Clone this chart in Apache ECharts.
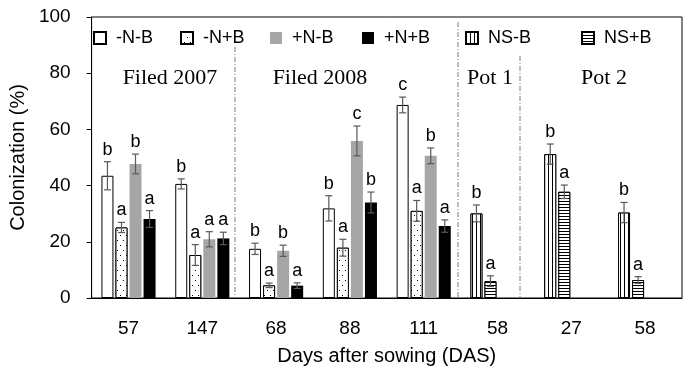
<!DOCTYPE html>
<html>
<head>
<meta charset="utf-8">
<script src="https://cdn.jsdelivr.net/npm/echarts@6/dist/echarts.min.js"></script>
<style>
  html, body { margin: 0; padding: 0; background: #fff; }
  #chart { width: 686px; height: 372px; }
</style>
</head>
<body>
<div id="chart"></div>
<script>
// categories (days after sowing)
const days = ['57', '147', '68', '88', '111', '58', '27', '58'];
const seriesNames = ['-N-B', '-N+B', '+N-B', '+N+B', 'NS-B', 'NS+B'];

// mean colonization (%)
const minusNminusB = [43.5, 40.6, 17.5, 31.9, 68.7, '-', '-', '-'];
const minusNplusB  = [25.1, 15.3, 4.5, 17.9, 31.0, '-', '-', '-'];
const plusNminusB  = [47.7, 20.9, 16.8, 55.9, 50.6, '-', '-', '-'];
const plusNplusB   = [28.1, 21.2, 4.4, 34.0, 25.6, '-', '-', '-'];
const nsMinusB     = ['-', '-', '-', '-', '-', 30.1, 51.2, 30.4];
const nsPlusB      = ['-', '-', '-', '-', '-', 6.0, 37.8, 6.4];

// standard errors
const errMinusNminusB = [5.0, 1.8, 2.0, 4.5, 2.8, 0, 0, 0];
const errMinusNplusB  = [1.8, 3.7, 0.8, 3.0, 3.7, 0, 0, 0];
const errPlusNminusB  = [3.5, 2.7, 2.0, 5.3, 2.8, 0, 0, 0];
const errPlusNplusB   = [3.0, 2.2, 1.0, 3.7, 2.2, 0, 0, 0];
const errNsMinusB     = [0, 0, 0, 0, 0, 3.0, 3.6, 3.6];
const errNsPlusB      = [0, 0, 0, 0, 0, 1.9, 2.4, 1.2];

// significance letters
const letMinusNminusB = ['b', 'b', 'b', 'b', 'c', '', '', ''];
const letMinusNplusB  = ['a', 'a', 'a', 'a', 'a', '', '', ''];
const letPlusNminusB  = ['b', 'a', 'b', 'c', 'b', '', '', ''];
const letPlusNplusB   = ['a', 'a', 'a', 'b', 'a', '', '', ''];
const letNsMinusB     = ['', '', '', '', '', 'b', 'b', 'b'];
const letNsPlusB      = ['', '', '', '', '', 'a', 'a', 'a'];

const yTicks = [0, 20, 40, 60, 80, 100];

const FONT = '"Liberation Sans", Arial, sans-serif';
const BAR_W = 12;
const BAR_GAP = 0.17;
const SLOTS = 4;

const values = [minusNminusB, minusNplusB, plusNminusB, plusNplusB, nsMinusB, nsPlusB];
const errs = [errMinusNminusB, errMinusNplusB, errPlusNminusB, errPlusNplusB, errNsMinusB, errNsPlusB];
const letters = [letMinusNminusB, letMinusNplusB, letPlusNminusB, letPlusNplusB, letNsMinusB, letNsPlusB];
const slotOf = [0, 1, 2, 3, 0, 1];
const stackOf = ['s1', 's2', undefined, undefined, 's1', 's2'];

const styles = [
  { color: '#fff', borderColor: '#000', borderWidth: 1 },
  { color: '#fff', borderColor: '#000', borderWidth: 1,
    decal: { symbol: 'rect', symbolSize: 1, color: '#000', backgroundColor: '#fff',
      dashArrayX: [[1, 5], [0, 3, 1, 2]], dashArrayY: [1, 4] } },
  { color: '#a6a6a6', borderColor: '#a6a6a6', borderWidth: 0 },
  { color: '#000', borderColor: '#000', borderWidth: 0 },
  { color: '#fff', borderColor: '#000', borderWidth: 1,
    decal: { symbol: 'rect', symbolSize: 1, color: '#000', backgroundColor: '#fff',
      dashArrayX: [1, 3], dashArrayY: [4, 0] } },
  { color: '#fff', borderColor: '#000', borderWidth: 1,
    decal: { symbol: 'rect', symbolSize: 1, color: '#000', backgroundColor: '#fff',
      dashArrayX: [4, 0], dashArrayY: [1, 2] } }
];

// error bar rows
const errRows = [];
values.forEach((arr, s) => {
  arr.forEach((v, i) => {
    if (typeof v === 'number') {
      errRows.push({ value: [i, v, errs[s][i], slotOf[s]], letter: letters[s][i] });
    }
  });
});

function slotCenter(slot) {
  const total = SLOTS * BAR_W + (SLOTS - 1) * BAR_W * BAR_GAP;
  return -total / 2 + slot * BAR_W * (1 + BAR_GAP) + BAR_W / 2;
}

function renderErr(params, api) {
  const i = api.value(0), m = api.value(1), e = api.value(2), slot = api.value(3);
  const x = api.coord([i, m])[0] + slotCenter(slot);
  const yHi = api.coord([i, m + e])[1];
  const yLo = api.coord([i, m - e])[1];
  const st = { stroke: '#595959', lineWidth: 1.2 };
  return {
    type: 'group',
    children: [
      { type: 'line', shape: { x1: x, y1: yHi, x2: x, y2: yLo }, style: st },
      { type: 'line', shape: { x1: x - 3.5, y1: yHi, x2: x + 3.5, y2: yHi }, style: st },
      { type: 'line', shape: { x1: x - 3.5, y1: yLo, x2: x + 3.5, y2: yLo }, style: st },
      { type: 'text', x: x, y: yHi - 3,
        style: { text: errRows[params.dataIndex].letter, fill: '#000',
          font: '18px ' + FONT, align: 'center', verticalAlign: 'bottom' } }
    ]
  };
}

const legendLeft = [93, 180, 270, 362, 465, 581];

const chart = echarts.init(document.getElementById('chart'));

const sepStyle = { stroke: '#7f7f7f', lineWidth: 1, lineDash: [5, 2, 1, 2] };
const titleFont = '22px "Liberation Serif", serif';

chart.setOption({
  animation: false,
  grid: { left: 86, right: 4, top: 17, bottom: 74, show: true, borderColor: '#000', borderWidth: 1 },
  legend: seriesNames.map((name, k) => ({
    data: [name],
    left: legendLeft[k],
    top: 29,
    padding: 0,
    icon: 'rect',
    itemWidth: 12,
    itemHeight: 12,
    selectedMode: false,
    textStyle: { fontFamily: FONT, fontSize: 18, color: '#000', padding: [0, 0, 0, 5] }
  })),
  xAxis: {
    type: 'category',
    data: days,
    name: 'Days after sowing (DAS)',
    nameLocation: 'middle',
    nameGap: 48,
    nameTextStyle: { fontFamily: FONT, fontSize: 20, color: '#000' },
    axisLine: { lineStyle: { color: '#000', width: 1 } },
    axisTick: { show: false },
    axisLabel: { fontFamily: FONT, fontSize: 19, color: '#000', margin: 21 }
  },
  yAxis: {
    type: 'value',
    min: yTicks[0],
    max: yTicks[yTicks.length - 1],
    interval: yTicks[1] - yTicks[0],
    name: 'Colonization (%)',
    nameLocation: 'middle',
    nameGap: 61,
    nameTextStyle: { fontFamily: FONT, fontSize: 20, color: '#000' },
    axisLine: { show: true, lineStyle: { color: '#000', width: 1 } },
    axisTick: { show: true, inside: false, length: 5, lineStyle: { color: '#000' } },
    axisLabel: { fontFamily: FONT, fontSize: 19, color: '#000', margin: 21 },
    splitLine: { show: false }
  },
  graphic: [
    { type: 'line', shape: { x1: 235, y1: 47, x2: 235, y2: 298 }, style: sepStyle },
    { type: 'line', shape: { x1: 458, y1: 22, x2: 458, y2: 298 }, style: sepStyle },
    { type: 'line', shape: { x1: 520, y1: 56, x2: 520, y2: 298 }, style: sepStyle },
    { type: 'text', x: 170, y: 78, style: { text: 'Filed 2007', font: titleFont, fill: '#000', align: 'center', verticalAlign: 'middle' } },
    { type: 'text', x: 320, y: 78, style: { text: 'Filed 2008', font: titleFont, fill: '#000', align: 'center', verticalAlign: 'middle' } },
    { type: 'text', x: 490, y: 78, style: { text: 'Pot 1', font: titleFont, fill: '#000', align: 'center', verticalAlign: 'middle' } },
    { type: 'text', x: 604, y: 78, style: { text: 'Pot 2', font: titleFont, fill: '#000', align: 'center', verticalAlign: 'middle' } }
  ],
  series: seriesNames.map((name, s) => ({
    name: name,
    type: 'bar',
    stack: stackOf[s],
    data: values[s],
    barWidth: BAR_W,
    barGap: (BAR_GAP * 100) + '%',
    itemStyle: styles[s]
  })).concat([{
    type: 'custom',
    name: 'err',
    renderItem: renderErr,
    encode: { x: 0, y: 1 },
    data: errRows.map(r => r.value),
    z: 5
  }])
});
</script>
</body>
</html>
